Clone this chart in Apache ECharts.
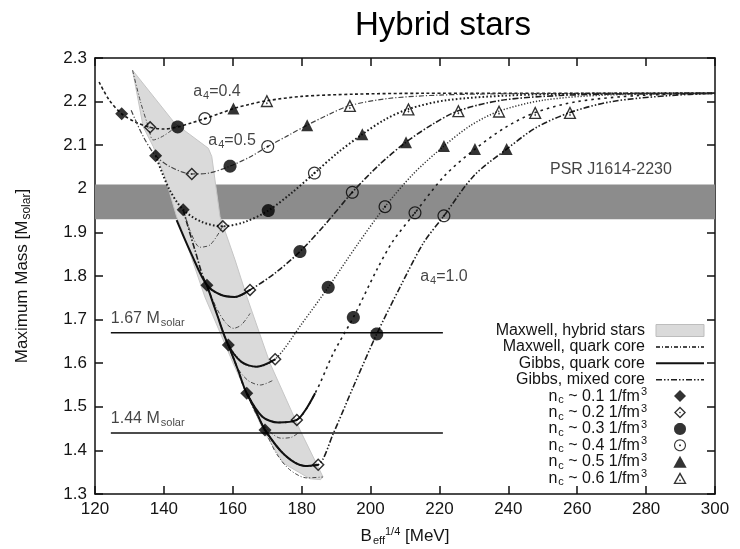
<!DOCTYPE html>
<html>
<head>
<meta charset="utf-8">
<title>Hybrid stars</title>
<script src="https://cdn.jsdelivr.net/npm/echarts/dist/echarts.min.js"></script>
<style>
  html, body { margin: 0; padding: 0; background: #ffffff; }
  #chart { width: 740px; height: 549px; }
</style>
</head>
<body>
<div id="chart"></div>
<script>
// ---------------------------------------------------------------
// Maximum mass of hybrid stars versus the effective bag constant
// ---------------------------------------------------------------
const FONT = '"Liberation Sans", Arial, Helvetica, sans-serif';
const INK = '#141414';

// axes
const xTickValues = [120, 140, 160, 180, 200, 220, 240, 260, 280, 300];
const yTickValues = [1.3, 1.4, 1.5, 1.6, 1.7, 1.8, 1.9, 2.0, 2.1, 2.2, 2.3];

// observational constraints
const psrBand = [1.93, 2.01];                 // PSR J1614-2230
const referenceMasses = [1.67, 1.44];         // horizontal reference lines
const referenceSpan = [124.6, 221];           // B range of those lines

// Gibbs mixed-core branches, [B_eff^(1/4) MeV, M/Msolar], one per a4
const mixedA04 = [[121.2, 2.245], [124, 2.205], [127.75, 2.172], [132, 2.152], [136.0, 2.141], [140, 2.137], [144.0, 2.142], [148, 2.151], [151.9, 2.161], [156, 2.172], [160.2, 2.184], [165, 2.194], [169.9, 2.202], [180, 2.212], [195, 2.217], [215, 2.219], [300, 2.219]];
const mixedA05 = [[130.5, 2.18], [134, 2.12], [137.6, 2.076], [142, 2.050], [148.1, 2.034], [153, 2.036], [159.2, 2.052], [165, 2.073], [170.15, 2.097], [176, 2.122], [181.6, 2.146], [188, 2.171], [194.0, 2.191], [205, 2.207], [220, 2.215], [240, 2.218], [300, 2.219]];
const mixedA06 = [[137.6, 2.076], [141.5, 2.000], [145.6, 1.952], [151, 1.924], [157.1, 1.914], [163.5, 1.924], [170.3, 1.950], [177, 1.990], [183.7, 2.036], [190.5, 2.083], [197.6, 2.125], [204, 2.158], [211.0, 2.183], [222, 2.203], [240, 2.214], [260, 2.218], [300, 2.219]];
const mixedA07 = [[145.6, 1.952], [149, 1.860], [152.5, 1.779], [156.5, 1.757], [160.6, 1.752], [165.0, 1.768], [172, 1.805], [179.5, 1.856], [187, 1.920], [194.7, 1.992], [202.5, 2.055], [210.3, 2.107], [218, 2.148], [225.5, 2.179], [238, 2.203], [255, 2.214], [275, 2.218], [300, 2.219]];
const mixedA08 = [[152.5, 1.779], [155.5, 1.710], [158.7, 1.642], [163, 1.600], [166.9, 1.592], [172.3, 1.609], [180, 1.690], [187.7, 1.774], [196, 1.870], [204.2, 1.959], [212.5, 2.035], [221.3, 2.098], [229, 2.145], [237.3, 2.178], [250, 2.203], [268, 2.215], [300, 2.219]];
const mixedA09 = [[158.7, 1.642], [161.5, 1.585], [164.05, 1.531], [168.5, 1.478], [173.2, 1.464], [178.6, 1.470], [183.9, 1.531], [189.2, 1.623], [195.0, 1.705], [201.8, 1.814], [206.5, 1.880], [212.9, 1.945], [221.5, 2.030], [230.3, 2.091], [239, 2.140], [247.8, 2.175], [260, 2.200], [278, 2.214], [300, 2.219]];
const mixedA10 = [[164.05, 1.531], [166.7, 1.490], [169.36, 1.447], [175, 1.390], [181, 1.364], [184.8, 1.367], [189.2, 1.439], [195.0, 1.546], [201.8, 1.667], [208.6, 1.775], [215.3, 1.875], [221.3, 1.938], [230, 2.030], [239.5, 2.091], [248, 2.140], [257.9, 2.175], [270, 2.200], [287, 2.214], [300, 2.219]];

// Gibbs construction, pure quark core
const quarkGibbsA07 = [[143.7, 1.928], [148, 1.850], [152.5, 1.779], [156.5, 1.757], [160.6, 1.752], [165.0, 1.768]];
const quarkGibbsA08 = [[152.5, 1.779], [155.5, 1.710], [158.7, 1.642], [162.5, 1.603], [166.9, 1.592], [172.3, 1.609]];
const quarkGibbsA09 = [[158.7, 1.642], [161.5, 1.585], [164.05, 1.531], [168.5, 1.478], [173.2, 1.464], [178.6, 1.470], [181.3, 1.495], [183.9, 1.531]];
const quarkGibbsA10 = [[164.05, 1.531], [166.7, 1.490], [169.36, 1.447], [175, 1.390], [181, 1.364], [184.8, 1.367]];

// Maxwell construction, quark core
const quarkMaxwellA04 = [[130.9, 2.272], [133.2, 2.200], [135.5, 2.142], [136.9, 2.112], [140, 2.122], [144.2, 2.146]];
const quarkMaxwellA06 = [[145.6, 1.952], [147.8, 1.900], [150.5, 1.866], [153.5, 1.872], [157.1, 1.914]];
const quarkMaxwellA07 = [[152.5, 1.779], [155.3, 1.726], [158, 1.692], [160.2, 1.680], [162.5, 1.688], [165, 1.714]];
const quarkMaxwellA08 = [[158.7, 1.642], [161.3, 1.590], [164.5, 1.560], [168, 1.550], [171.5, 1.560]];
const quarkMaxwellA09 = [[164.05, 1.531], [167, 1.480], [170.5, 1.445], [174, 1.428], [177, 1.430], [179, 1.440]];
const quarkMaxwellA10 = [[169.36, 1.447], [172.5, 1.395], [176.5, 1.356], [181.5, 1.337], [186.2, 1.339]];

// region of Maxwell hybrid stars (outline)
const maxwellRegion = [[130.9, 2.272], [143.2, 2.150], [152.9, 2.093], [153.9, 2.074], [156.3, 1.936], [160.65, 1.837], [164.1, 1.752], [170.8, 1.600], [179.5, 1.447], [186.2, 1.339], [185.5, 1.333], [182.4, 1.335], [174.6, 1.371], [168.8, 1.447], [160.1, 1.600], [151.9, 1.752], [145.3, 1.905], [143.7, 1.936], [140.3, 2.028], [136.9, 2.097], [134.0, 2.142]];

// central densities n_c marked on every a4 branch (a4 = 0.4 ... 1.0)
const nc01 = [[127.75, 2.172], [137.6, 2.076], [145.6, 1.952], [152.5, 1.779], [158.7, 1.642], [164.05, 1.531], [169.36, 1.447]];
const nc02 = [[136.0, 2.141], [148.1, 2.034], [157.1, 1.914], [165.0, 1.768], [172.3, 1.609], [178.6, 1.470], [184.8, 1.367]];
const nc03 = [[144.0, 2.142], [159.2, 2.052], [170.3, 1.950], [179.5, 1.856], [187.7, 1.774], [195.0, 1.705], [201.8, 1.667]];
const nc04 = [[151.9, 2.161], [170.15, 2.097], [183.7, 2.036], [194.7, 1.992], [204.2, 1.959], [212.9, 1.945], [221.3, 1.938]];
const nc05 = [[160.2, 2.184], [181.6, 2.146], [197.6, 2.125], [210.3, 2.107], [221.3, 2.098], [230.3, 2.091], [239.5, 2.091]];
const nc06 = [[169.9, 2.202], [194.0, 2.191], [211.0, 2.183], [225.5, 2.179], [237.3, 2.178], [247.8, 2.175], [257.9, 2.175]];
const ncValues = ['0.1', '0.2', '0.3', '0.4', '0.5', '0.6'];

// text anchors (left edge, vertical centre) in data units
const a4Labels = ['0.4', '0.5', '1.0'];
const a4LabelAnchors = [[148.5, 2.222], [152.9, 2.110], [214.4, 1.798]];
const psrLabelAnchor = [252.1, 2.043];

// ---------------------------------------------------------------
// symbols
function polyRing(cx, cy, r, n, reverse) {
  const pts = [];
  for (let i = 0; i < n; i++) {
    const t = (reverse ? -1 : 1) * (i / n) * Math.PI * 2 - Math.PI / 2;
    pts.push((cx + r * Math.cos(t)).toFixed(2) + ' ' + (cy + r * Math.sin(t)).toFixed(2));
  }
  return 'M' + pts.join('L') + 'Z';
}
const SYMBOLS = [
  'path://M10 0L20 10L10 20L0 10Z',
  'path://M10 0L20 10L10 20L0 10Z M10 3.2L3.2 10L10 16.8L16.8 10Z M10 8.4L11.6 10L10 11.6L8.4 10Z',
  'path://' + polyRing(10, 10, 10, 32, false),
  'path://' + polyRing(10, 10, 10, 32, false) + ' ' + polyRing(10, 10, 8.1, 32, true) + ' ' + polyRing(10, 10, 1.7, 12, false),
  'path://M10 0L20 18L0 18Z',
  'path://M10 0L20 18L0 18Z M10 4.3L3.4 16.1L16.6 16.1Z M10 10.6L11.5 12.4L10 14.2L8.5 12.4Z'
];
const SYMBOL_SIZES = [13, 13, 13, 13, 12, 13];

// ---------------------------------------------------------------
const richText = {
  t: { fontFamily: FONT, fontSize: 16, color: INK, lineHeight: 16 },
  sb: { fontFamily: FONT, fontSize: 11, color: INK, lineHeight: 16, padding: [8, 0, 0, 1] },
  sp: { fontFamily: FONT, fontSize: 11, color: INK, lineHeight: 16, padding: [0, 0, 8, 1] }
};
const ZW = '\u200b';

const series = [];

// Maxwell hybrid-star region
series.push({
  type: 'custom',
  name: 'Maxwell, hybrid stars',
  coordinateSystem: 'cartesian2d',
  silent: true,
  z: 1,
  data: [maxwellRegion[0]],
  renderItem: function (params, api) {
    return {
      type: 'polygon',
      shape: { points: maxwellRegion.map(function (p) { return api.coord(p); }) },
      style: { fill: '#dadada', stroke: '#c6c6c6', lineWidth: 1 }
    };
  }
});

// PSR J1614-2230 band
series.push({
  type: 'line',
  name: 'psr',
  data: [],
  symbol: 'none',
  silent: true,
  z: 2,
  markArea: {
    silent: true,
    itemStyle: { color: '#8c8c8c', opacity: 1 },
    label: { show: false },
    data: [[{ yAxis: psrBand[0] }, { yAxis: psrBand[1] }]]
  }
});

// mixed-core branches
const mixedSets = [
  { pts: mixedA10, type: [6, 2, 1.5, 2, 1.5, 2], width: 1.6, color: '#1e1e1e' },
  { pts: mixedA04, type: [3, 2.5], width: 1.6, color: '#1e1e1e' },
  { pts: mixedA05, type: [5, 2, 1.2, 2], width: 1.2, color: '#444444' },
  { pts: mixedA06, type: [1.6, 2.2], width: 2, color: '#1e1e1e' },
  { pts: mixedA07, type: [6, 2, 1.5, 2], width: 1.6, color: '#1e1e1e' },
  { pts: mixedA08, type: [1.2, 1.8], width: 1.5, color: '#333333' },
  { pts: mixedA09, type: [2.5, 4], width: 1.6, color: '#1e1e1e' }
];
mixedSets.forEach(function (s) {
  series.push({
    type: 'line', name: 'Gibbs, mixed core', data: s.pts, symbol: 'none', smooth: 0.3,
    silent: true, z: 3,
    itemStyle: { color: s.color },
    lineStyle: { color: s.color, width: s.width, type: s.type }
  });
});

// Maxwell quark-core branches
[quarkMaxwellA04, quarkMaxwellA06, quarkMaxwellA07, quarkMaxwellA08, quarkMaxwellA09, quarkMaxwellA10].forEach(function (pts) {
  series.push({
    type: 'line', name: 'Maxwell, quark core', data: pts, symbol: 'none', smooth: 0.3,
    silent: true, z: 3,
    itemStyle: { color: '#4a4a4a' },
    lineStyle: { color: '#4a4a4a', width: 1, type: [4, 2, 1, 2] }
  });
});

// Gibbs quark-core branches
[quarkGibbsA07, quarkGibbsA08, quarkGibbsA09, quarkGibbsA10].forEach(function (pts) {
  series.push({
    type: 'line', name: 'Gibbs, quark core', data: pts, symbol: 'none', smooth: 0.3,
    silent: true, z: 4,
    itemStyle: { color: '#111111' },
    lineStyle: { color: '#111111', width: 2, type: 'solid' }
  });
});

// 1.67 and 1.44 solar-mass reference lines
referenceMasses.forEach(function (m) {
  series.push({
    type: 'line', name: 'ref' + m, data: [[referenceSpan[0], m], [referenceSpan[1], m]],
    symbol: 'none', silent: true, z: 4,
    lineStyle: { color: '#111111', width: 1.5 }
  });
  series.push({
    type: 'scatter', name: 'refLabel' + m, data: [[referenceSpan[0], m]],
    symbolSize: 0, silent: true, z: 6,
    label: {
      show: true, position: 'right', distance: 0, offset: [0, -14],
      formatter: '{t|' + m.toFixed(2) + ' M}{sb|solar}', rich: richText
    }
  });
});

// central-density markers
const markerSets = [nc01, nc02, nc03, nc04, nc05, nc06];
const markerNames = ncValues.map(function (v) { return 'n_c ~ ' + v + ' 1/fm3'; });
markerSets.forEach(function (pts, i) {
  series.push({
    type: 'scatter', name: markerNames[i], data: pts,
    symbol: SYMBOLS[i], symbolSize: SYMBOL_SIZES[i], silent: true, z: 5,
    itemStyle: { color: '#000000' }
  });
});

// a4 labels and pulsar label
series.push({
  type: 'scatter', name: 'a4Labels',
  data: a4LabelAnchors.map(function (p, i) {
    return { value: p, label: { formatter: '{t|a}{sb|4}{t|=' + a4Labels[i] + '}' } };
  }),
  symbolSize: 0, silent: true, z: 6,
  label: { show: true, position: 'right', distance: 0, rich: richText }
});
series.push({
  type: 'scatter', name: 'psrLabel', data: [psrLabelAnchor],
  symbolSize: 0, silent: true, z: 6,
  label: { show: true, position: 'right', distance: 0, formatter: '{t|PSR J1614-2230}', rich: richText }
});

// ---------------------------------------------------------------
const axisLineStyle = { color: '#111111', width: 1.5 };
const tickStyle = { inside: true, length: 8, lineStyle: { color: '#111111', width: 1.5 } };
const xRange = { min: xTickValues[0], max: xTickValues[xTickValues.length - 1], interval: xTickValues[1] - xTickValues[0] };
const yRange = { min: yTickValues[0], max: yTickValues[yTickValues.length - 1], interval: 0.1 };
const hiddenSymbol = { opacity: 0, borderWidth: 0 };

const option = {
  animation: false,
  backgroundColor: '#ffffff',
  title: {
    text: 'Hybrid stars',
    left: 350, top: 4,
    textStyle: { fontFamily: FONT, fontSize: 33, fontWeight: 'normal', color: '#000000' }
  },
  grid: { left: 95, right: 25, top: 58, bottom: 55, outerBoundsMode: 'none', containLabel: false },
  xAxis: [
    {
      type: 'value', position: 'bottom', min: xRange.min, max: xRange.max, interval: xRange.interval,
      axisLine: { show: true, onZero: false, lineStyle: axisLineStyle },
      axisTick: tickStyle,
      axisLabel: { fontFamily: FONT, fontSize: 17, color: INK, margin: 7, showMinLabel: true, showMaxLabel: true },
      splitLine: { show: false },
      name: '{t|B}{sb|eff}{sp|1/4}{t| [MeV]}',
      nameLocation: 'middle', nameGap: 33,
      nameTextStyle: { rich: {
        t: { fontFamily: FONT, fontSize: 17, color: INK, lineHeight: 18 },
        sb: { fontFamily: FONT, fontSize: 11, color: INK, lineHeight: 18, padding: [9, 0, 0, 1] },
        sp: { fontFamily: FONT, fontSize: 11, color: INK, lineHeight: 18, padding: [0, 0, 9, 0] }
      } }
    },
    {
      type: 'value', position: 'top', min: xRange.min, max: xRange.max, interval: xRange.interval,
      axisLine: { show: true, onZero: false, lineStyle: axisLineStyle },
      axisTick: tickStyle, axisLabel: { show: false }, splitLine: { show: false }
    }
  ],
  yAxis: [
    {
      type: 'value', position: 'left', min: yRange.min, max: yRange.max, interval: yRange.interval,
      axisLine: { show: true, onZero: false, lineStyle: axisLineStyle },
      axisTick: tickStyle,
      axisLabel: { fontFamily: FONT, fontSize: 17, color: INK, margin: 8, showMinLabel: true, showMaxLabel: true },
      splitLine: { show: false },
      name: '{t|Maximum Mass [M}{sb|solar}{t|]}',
      nameLocation: 'middle', nameGap: 64, nameRotate: 90,
      nameTextStyle: { rich: {
        t: { fontFamily: FONT, fontSize: 17, color: INK, lineHeight: 18 },
        sb: { fontFamily: FONT, fontSize: 12, color: INK, lineHeight: 18, padding: [9, 0, 0, 1] }
      } }
    },
    {
      type: 'value', position: 'right', min: yRange.min, max: yRange.max, interval: yRange.interval,
      axisLine: { show: true, onZero: false, lineStyle: axisLineStyle },
      axisTick: tickStyle, axisLabel: { show: false }, splitLine: { show: false }
    }
  ],
  legend: {
    orient: 'vertical', right: 35, top: 321, padding: 0,
    align: 'right', itemWidth: 48, itemHeight: 12, itemGap: -2.6,
    symbolKeepAspect: true, selectedMode: false,
    textStyle: { fontFamily: FONT, fontSize: 16, color: INK, padding: [0, 4, 0, 0], rich: richText },
    formatter: function (name) {
      const m = name.match(/^n_c ~ (\S+) 1\/fm3$/);
      if (m) return '{t|n}{sb|c}{t| ~ ' + m[1] + ' 1/fm}{sp|3}';
      return '{t|' + name + '}{sb|' + ZW + '}{sp|' + ZW + '}';
    },
    data: [
      { name: 'Maxwell, hybrid stars', icon: 'rect', itemStyle: { color: '#dadada', borderColor: '#bdbdbd', borderWidth: 1 } },
      { name: 'Maxwell, quark core', itemStyle: hiddenSymbol },
      { name: 'Gibbs, quark core', itemStyle: hiddenSymbol },
      { name: 'Gibbs, mixed core', itemStyle: hiddenSymbol, lineStyle: { type: [6, 2, 1.5, 2, 1.5, 2], width: 1.6, color: '#1e1e1e' } }
    ].concat(markerNames.map(function (n) { return { name: n }; }))
  },
  series: series
};

const chart = echarts.init(document.getElementById('chart'), null, { renderer: 'canvas' });
chart.setOption(option);
</script>
</body>
</html>
